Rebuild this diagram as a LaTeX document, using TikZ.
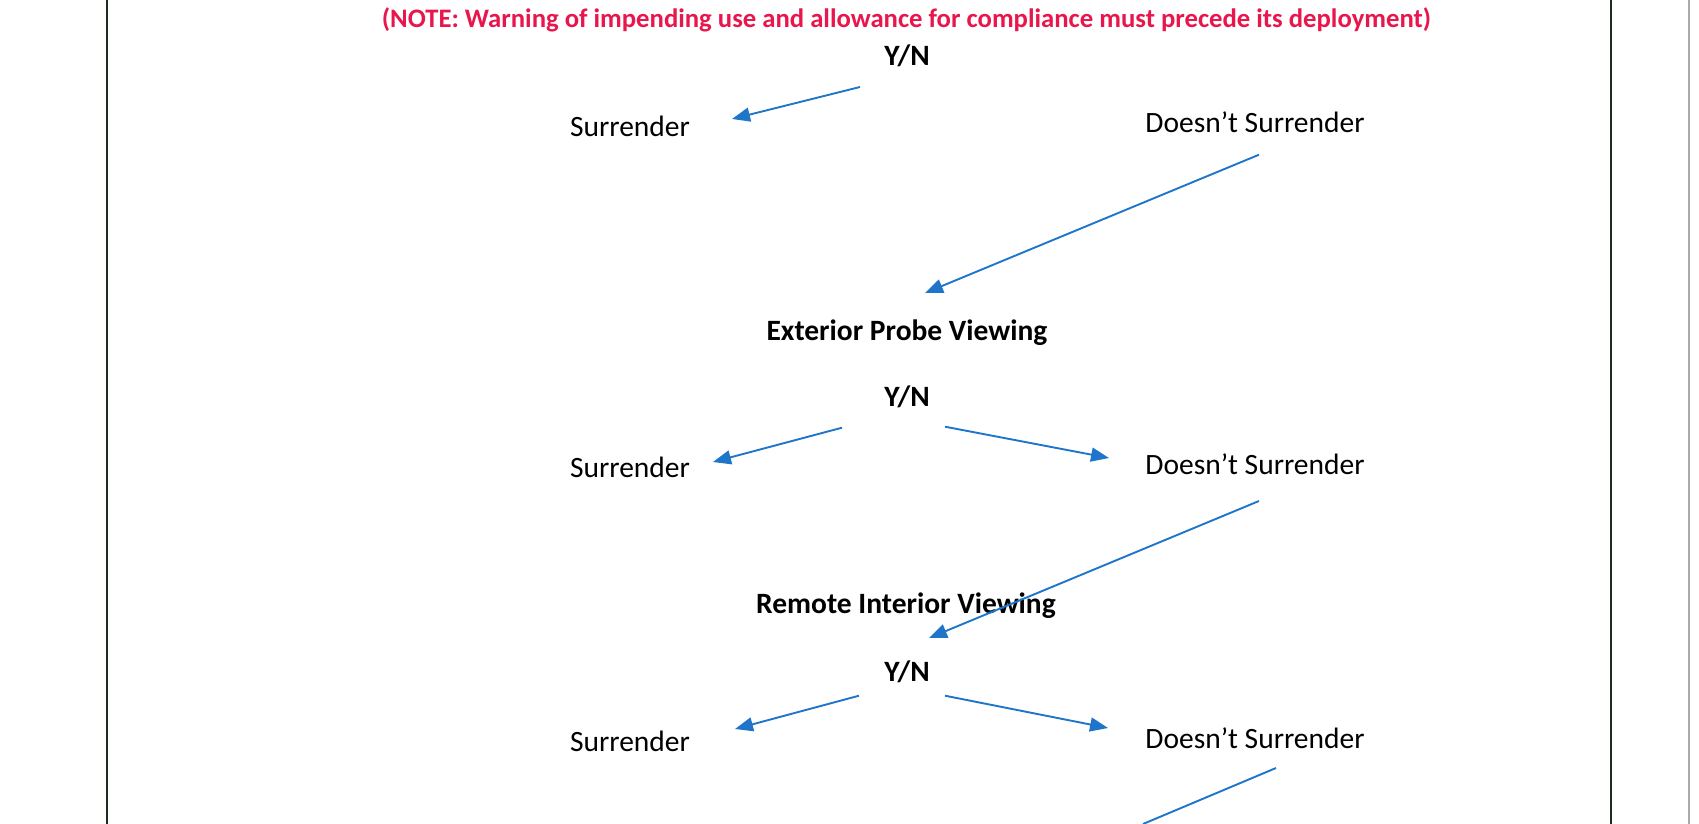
\documentclass[tikz,border=0pt]{standalone}
\usepackage{fontspec}
\setmainfont{Carlito}
\usetikzlibrary{arrows.meta}
\definecolor{arrblue}{RGB}{31,117,202}
\definecolor{notered}{RGB}{232,22,76}
\definecolor{framecol}{RGB}{28,44,30}
\definecolor{pagegray}{RGB}{170,170,170}
\tikzset{
  lbl/.style={inner sep=0pt, anchor=base, font=\fontsize{29.5}{35}\selectfont},
  blbl/.style={lbl, font=\fontsize{29.5}{35}\selectfont\bfseries},
  notelbl/.style={inner sep=0pt, anchor=base, text=notered, font=\fontsize{26.7}{32}\selectfont\bfseries},
  arr/.style={draw=arrblue, line width=1.9pt, -{Triangle[length=18pt,width=14pt]}},
  plainarr/.style={draw=arrblue, line width=1.9pt},
}
\begin{document}
\begin{tikzpicture}[x=1pt,y=-1pt]
\useasboundingbox (0,0) rectangle (1699,824);
% frame lines
\draw[framecol, line width=1.6pt] (107,0) -- (107,824);
\draw[framecol, line width=1.8pt] (1611,0) -- (1611,824);
\draw[pagegray, line width=1.6pt] (1689,0) -- (1689,824);

% texts
\node[notelbl] (note) at (906.5,28) {(NOTE: Warning of impending use and allowance for compliance must precede its deployment)};
\node[blbl] (yn1) at (907,66) {Y/N};
\node[lbl] (sur1) at (630,136) {Surrender};
\node[lbl] (ds1) at (1255,132.7) {Doesn’t Surrender};
\node[blbl] (ext) at (907,340) {Exterior Probe Viewing};
\node[blbl] (yn2) at (907,406.7) {Y/N};
\node[lbl] (sur2) at (630,477) {Surrender};
\node[lbl] (ds2) at (1255,474) {Doesn’t Surrender};
\node[blbl] (rem) at (906,613) {Remote Interior Viewing};
\node[blbl] (yn3) at (907,681.7) {Y/N};
\node[lbl] (sur3) at (630,751) {Surrender};
\node[lbl] (ds3) at (1255,748) {Doesn’t Surrender};
\coordinate (out) at (1143,824);

% connectors
\draw[arr] ([shift={(-47,21)}]yn1.base) -- ([shift={(102,-17)}]sur1.base);
\draw[arr] ([shift={(4,22)}]ds1.base) -- ([shift={(18,-47)}]ext.base);
\draw[arr] ([shift={(-65,21)}]yn2.base) -- ([shift={(83,-15)}]sur2.base);
\draw[arr] ([shift={(38,20)}]yn2.base) -- ([shift={(-146,-16)}]ds2.base);
\draw[arr] ([shift={(4,27)}]ds2.base) -- ([shift={(23,25)}]rem.base);
\draw[arr] ([shift={(-48,14)}]yn3.base) -- ([shift={(105,-22)}]sur3.base);
\draw[arr] ([shift={(38,14)}]yn3.base) -- ([shift={(-147,-20)}]ds3.base);
\draw[plainarr] ([shift={(21,20)}]ds3.base) -- (out);
\end{tikzpicture}
\end{document}
